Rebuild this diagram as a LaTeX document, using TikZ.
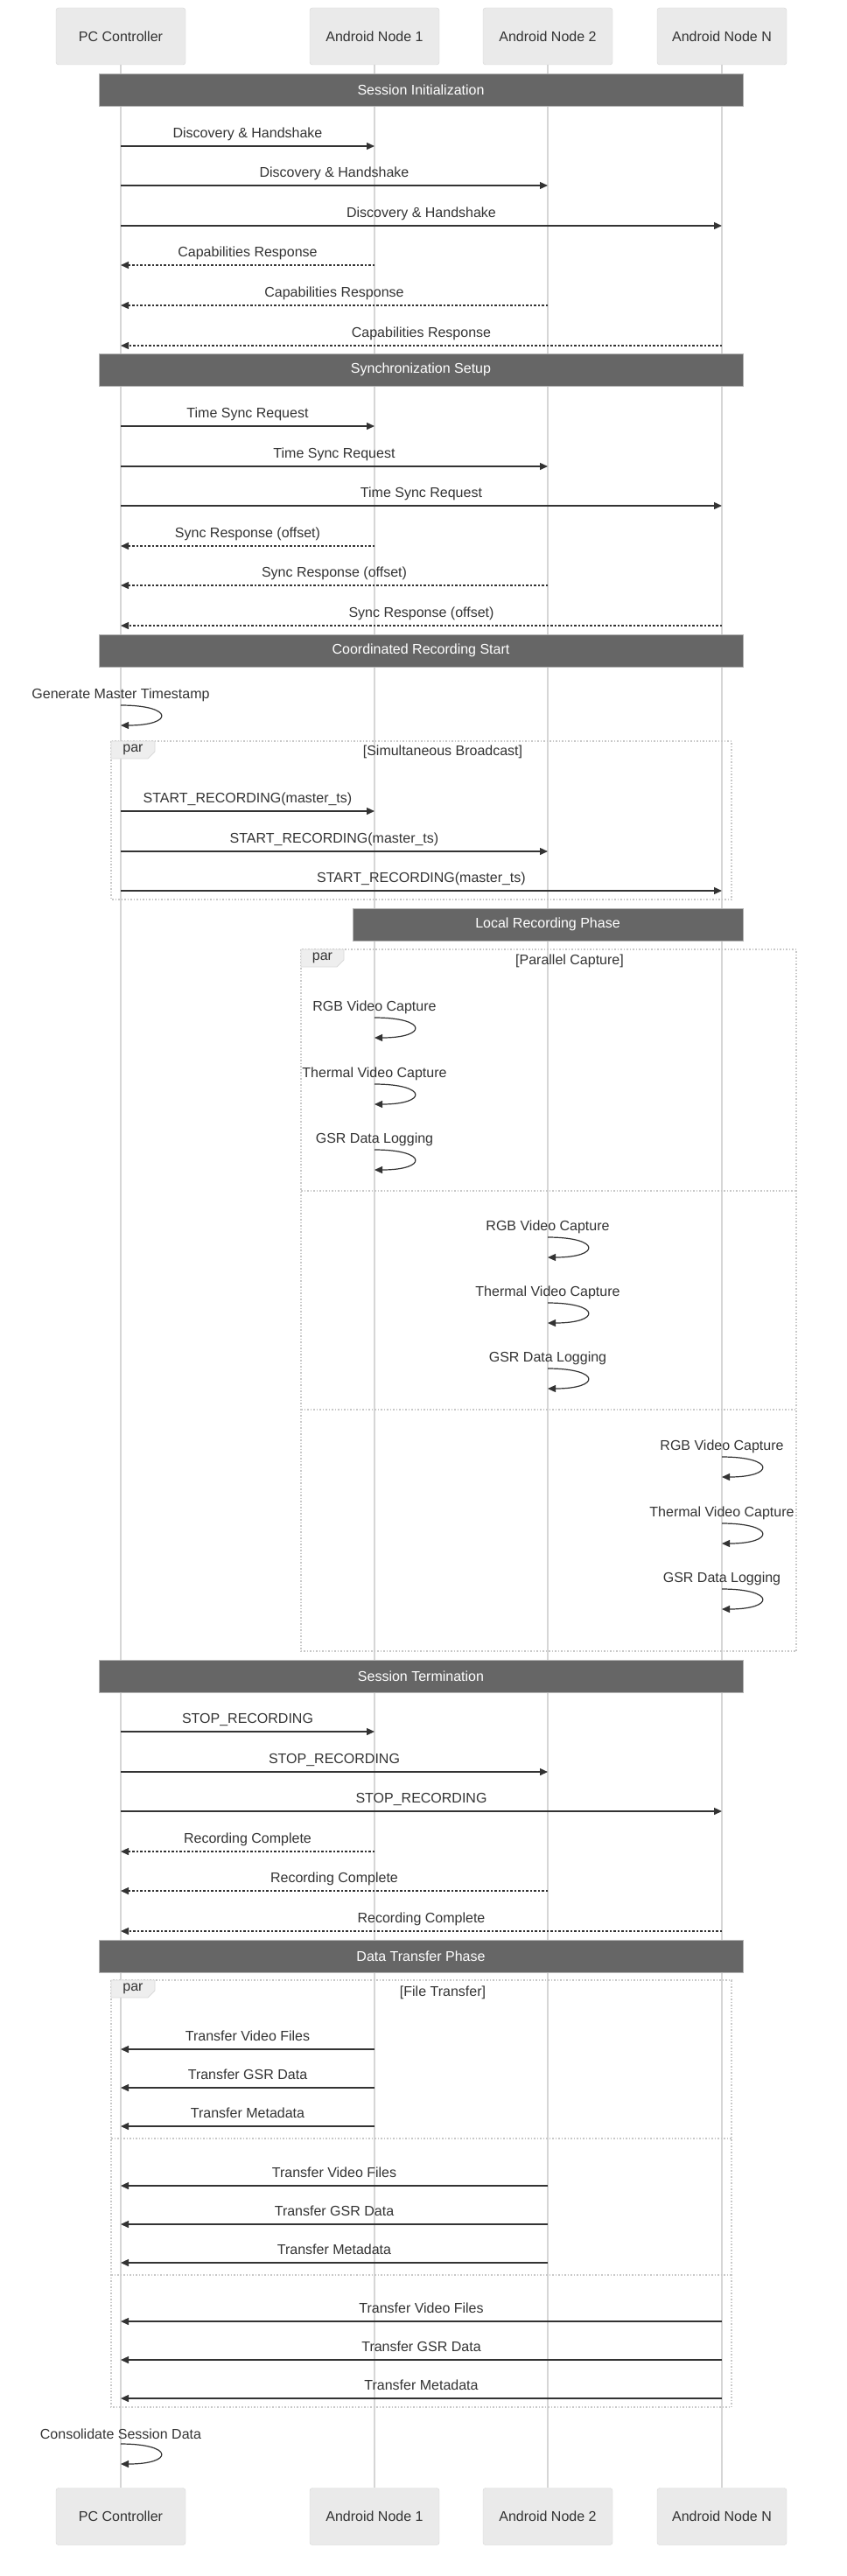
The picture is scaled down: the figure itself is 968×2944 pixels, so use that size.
\documentclass[tikz,border=0pt]{standalone}
\usepackage{fontspec}
\setmainfont{Liberation Sans}
\usepackage{tikz}
\usetikzlibrary{positioning,arrows.meta,backgrounds}
\definecolor{ActorFill}{RGB}{234,234,234}
\definecolor{ActorLine}{RGB}{212,212,212}
\definecolor{BarFill}{RGB}{102,102,102}
\definecolor{BarLine}{RGB}{178,178,178}
\definecolor{LifeGray}{RGB}{214,214,214}
\definecolor{MsgDark}{RGB}{51,51,51}
\definecolor{FrameGray}{RGB}{200,200,200}
\definecolor{TabFill}{RGB}{238,238,238}

\begin{document}
\begin{tikzpicture}[x=1pt, y=-1pt, font=\fontsize{16}{19}\selectfont,
                % Style cho actor va thanh phase
                actornode/.style={rectangle, rounded corners=3pt, draw=ActorLine, fill=ActorFill, text=MsgDark, minimum width=148pt, minimum height=65pt, inner sep=0pt},
                phasebar/.style={rectangle, draw=BarLine, line width=1pt, fill=BarFill, text=white, minimum width=736pt, minimum height=37pt, inner sep=0pt},
                % Style canh
                lifeline/.style={draw=LifeGray, line width=1.5pt},
                msgedge/.style={-{Triangle[length=9pt,width=8pt]}, draw=MsgDark, line width=1.4pt},
                replyedge/.style={msgedge, dash pattern=on 2.5pt off 2pt},
                selfedge/.style={msgedge, line width=1.2pt},
                % Style khung par
                parframe/.style={draw=FrameGray, line width=1.2pt, dash pattern=on 1.5pt off 2pt},
                partab/.style={draw=FrameGray!70, fill=TabFill, line width=0.8pt},
                % Style nhan
                msglabel/.style={midway, anchor=base, yshift=10pt, text=MsgDark},
                looplabel/.style={anchor=base, text=MsgDark},
                framelabel/.style={text=MsgDark}
            ]
                \useasboundingbox (0,0) rectangle (968,2944);

                % --- ACTORS ---
                \node[actornode] (pc) at (138,41.5) {PC Controller};
                \node[actornode] (a1) at (428,41.5) {Android Node 1};
                \node[actornode] (a2) at (626,41.5) {Android Node 2};
                \node[actornode] (an) at (825,41.5) {Android Node N};

                \node[actornode] (pcb) at (138,2876) {PC Controller};
                \node[actornode] (a1b) at (428,2876) {Android Node 1};
                \node[actornode] (a2b) at (626,2876) {Android Node 2};
                \node[actornode] (anb) at (825,2876) {Android Node N};

                % --- LIFELINES ---
                \begin{scope}[on background layer]
                \draw[lifeline] (pc) -- (pcb); \draw[lifeline] (a1) -- (a1b);
                \draw[lifeline] (a2) -- (a2b); \draw[lifeline] (an) -- (anb);
                \end{scope}

                % --- SESSION INITIALIZATION ---
                \node[phasebar] (ph1) at (481,102.5) {Session Initialization};
                \draw[msgedge] (pc |- 0,167) -- (a1 |- 0,167) node[msglabel] (d1) {Discovery \& Handshake};
                \draw[msgedge] (pc |- 0,212) -- (a2 |- 0,212) node[msglabel] (d2) {Discovery \& Handshake};
                \draw[msgedge] (pc |- 0,258) -- (an |- 0,258) node[msglabel] (dn) {Discovery \& Handshake};
                \draw[replyedge] (a1 |- 0,303) -- (pc |- 0,303) node[msglabel] (c1) {Capabilities Response};
                \draw[replyedge] (a2 |- 0,349) -- (pc |- 0,349) node[msglabel] (c2) {Capabilities Response};
                \draw[replyedge] (an |- 0,395) -- (pc |- 0,395) node[msglabel] (cn) {Capabilities Response};

                % --- SYNCHRONIZATION SETUP ---
                \node[phasebar] (ph2) at (481,422.5) {Synchronization Setup};
                \draw[msgedge] (pc |- 0,487) -- (a1 |- 0,487) node[msglabel] (t1) {Time Sync Request};
                \draw[msgedge] (pc |- 0,533) -- (a2 |- 0,533) node[msglabel] (t2) {Time Sync Request};
                \draw[msgedge] (pc |- 0,578) -- (an |- 0,578) node[msglabel] (tn) {Time Sync Request};
                \draw[replyedge] (a1 |- 0,624) -- (pc |- 0,624) node[msglabel] (r1) {Sync Response (offset)};
                \draw[replyedge] (a2 |- 0,669) -- (pc |- 0,669) node[msglabel] (r2) {Sync Response (offset)};
                \draw[replyedge] (an |- 0,715) -- (pc |- 0,715) node[msglabel] (rn) {Sync Response (offset)};

                % --- COORDINATED RECORDING START ---
                \node[phasebar] (ph3) at (481,743.5) {Coordinated Recording Start};
                \node[looplabel] (gen) at (138,798) {Generate Master Timestamp};
                \draw[selfedge] (pc |- 0,806) .. controls +(61,0) and +(61,0) .. (pc |- 0,829);

                \draw[parframe] (127,847) rectangle (836,1028);
                \draw[partab] (127,847) -- (177,847) -- (177,859) -- (169,867) -- (127,867) -- cycle;
                \node[framelabel] (par1) at (152,857) {par};
                \node[framelabel] (bc) at (506,859) {[Simultaneous Broadcast]};
                \draw[msgedge] (pc |- 0,927) -- (a1 |- 0,927) node[msglabel] (s1) {START\_RECORDING(master\_ts)};
                \draw[msgedge] (pc |- 0,973) -- (a2 |- 0,973) node[msglabel] (s2) {START\_RECORDING(master\_ts)};
                \draw[msgedge] (pc |- 0,1018) -- (an |- 0,1018) node[msglabel] (sn) {START\_RECORDING(master\_ts)};

                % --- LOCAL RECORDING PHASE ---
                \node[phasebar, minimum width=446pt] (ph4) at (626,1056.5) {Local Recording Phase};
                \draw[parframe] (344,1085) rectangle (910,1887);
                \draw[partab] (344,1085) -- (393,1085) -- (393,1097) -- (385,1105) -- (344,1105) -- cycle;
                \node[framelabel] (par2) at (368.5,1095) {par};
                \node[framelabel] (pcap) at (651,1098) {[Parallel Capture]};
                \draw[parframe] (344,1361) -- (910,1361);
                \draw[parframe] (344,1611) -- (910,1611);

                % Node 1
                \node[looplabel] (rgb1) at (428,1155) {RGB Video Capture};
                \draw[selfedge] (a1 |- 0,1163) .. controls +(61,0) and +(61,0) .. (a1 |- 0,1186);
                \node[looplabel] (th1) at (428,1231) {Thermal Video Capture};
                \draw[selfedge] (a1 |- 0,1239) .. controls +(61,0) and +(61,0) .. (a1 |- 0,1262);
                \node[looplabel] (gsr1) at (428,1306) {GSR Data Logging};
                \draw[selfedge] (a1 |- 0,1314) .. controls +(61,0) and +(61,0) .. (a1 |- 0,1337);

                % Node 2
                \node[looplabel] (rgb2) at (626,1406) {RGB Video Capture};
                \draw[selfedge] (a2 |- 0,1414) .. controls +(61,0) and +(61,0) .. (a2 |- 0,1437);
                \node[looplabel] (th2) at (626,1481) {Thermal Video Capture};
                \draw[selfedge] (a2 |- 0,1489) .. controls +(61,0) and +(61,0) .. (a2 |- 0,1512);
                \node[looplabel] (gsr2) at (626,1556) {GSR Data Logging};
                \draw[selfedge] (a2 |- 0,1564) .. controls +(61,0) and +(61,0) .. (a2 |- 0,1587);

                % Node N
                \node[looplabel] (rgbn) at (825,1657) {RGB Video Capture};
                \draw[selfedge] (an |- 0,1665) .. controls +(61,0) and +(61,0) .. (an |- 0,1688);
                \node[looplabel] (thn) at (825,1733) {Thermal Video Capture};
                \draw[selfedge] (an |- 0,1741) .. controls +(61,0) and +(61,0) .. (an |- 0,1764);
                \node[looplabel] (gsrn) at (825,1808) {GSR Data Logging};
                \draw[selfedge] (an |- 0,1816) .. controls +(61,0) and +(61,0) .. (an |- 0,1839);

                % --- SESSION TERMINATION ---
                \node[phasebar] (ph5) at (481,1915.5) {Session Termination};
                \draw[msgedge] (pc |- 0,1979) -- (a1 |- 0,1979) node[msglabel] (p1) {STOP\_RECORDING};
                \draw[msgedge] (pc |- 0,2025) -- (a2 |- 0,2025) node[msglabel] (p2) {STOP\_RECORDING};
                \draw[msgedge] (pc |- 0,2070) -- (an |- 0,2070) node[msglabel] (pn) {STOP\_RECORDING};
                \draw[replyedge] (a1 |- 0,2116) -- (pc |- 0,2116) node[msglabel] (f1) {Recording Complete};
                \draw[replyedge] (a2 |- 0,2161) -- (pc |- 0,2161) node[msglabel] (f2) {Recording Complete};
                \draw[replyedge] (an |- 0,2207) -- (pc |- 0,2207) node[msglabel] (fn) {Recording Complete};

                % --- DATA TRANSFER PHASE ---
                \node[phasebar] (ph6) at (481,2235.5) {Data Transfer Phase};
                \draw[parframe] (127,2263) rectangle (836,2751);
                \draw[partab] (127,2263) -- (177,2263) -- (177,2275) -- (169,2283) -- (127,2283) -- cycle;
                \node[framelabel] (par3) at (152,2273) {par};
                \node[framelabel] (ftr) at (506,2277) {[File Transfer]};
                \draw[parframe] (127,2444) -- (836,2444);
                \draw[parframe] (127,2600) -- (836,2600);

                \draw[msgedge] (a1 |- 0,2342) -- (pc |- 0,2342) node[msglabel] (v1) {Transfer Video Files};
                \draw[msgedge] (a1 |- 0,2386) -- (pc |- 0,2386) node[msglabel] (g1) {Transfer GSR Data};
                \draw[msgedge] (a1 |- 0,2430) -- (pc |- 0,2430) node[msglabel] (x1) {Transfer Metadata};

                \draw[msgedge] (a2 |- 0,2498) -- (pc |- 0,2498) node[msglabel] (v2) {Transfer Video Files};
                \draw[msgedge] (a2 |- 0,2542) -- (pc |- 0,2542) node[msglabel] (g2) {Transfer GSR Data};
                \draw[msgedge] (a2 |- 0,2586) -- (pc |- 0,2586) node[msglabel] (x2) {Transfer Metadata};

                \draw[msgedge] (an |- 0,2653) -- (pc |- 0,2653) node[msglabel] (vn) {Transfer Video Files};
                \draw[msgedge] (an |- 0,2697) -- (pc |- 0,2697) node[msglabel] (gn) {Transfer GSR Data};
                \draw[msgedge] (an |- 0,2741) -- (pc |- 0,2741) node[msglabel] (xn) {Transfer Metadata};

                % --- CONSOLIDATE ---
                \node[looplabel] (cons) at (138,2787) {Consolidate Session Data};
                \draw[selfedge] (pc |- 0,2793) .. controls +(61,0) and +(61,0) .. (pc |- 0,2816);

            \end{tikzpicture}
\end{document}
